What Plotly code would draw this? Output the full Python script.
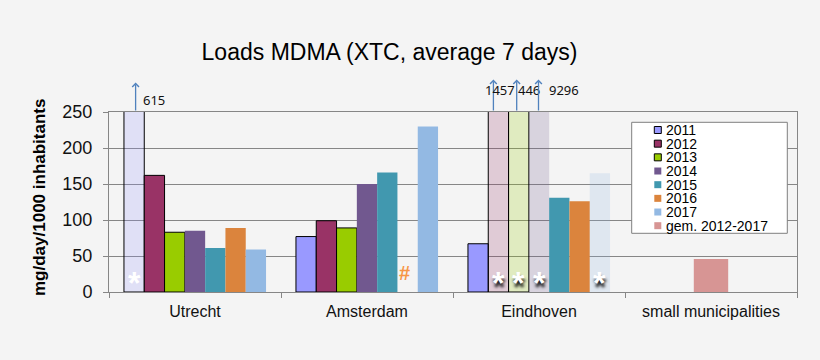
import plotly.graph_objects as go

# ---------------- data ----------------
title_text = "Loads MDMA (XTC, average 7 days)"
y_title = "mg/day/1000 inhabitants"
cities = ["Utrecht", "Amsterdam", "Eindhoven", "small municipalities"]
years = ["2011", "2012", "2013", "2014", "2015", "2016", "2017"]
v2011 = [615, 77, 67, None]
v2012 = [162, 99, 1457, None]
v2013 = [83, 89, 446, None]
v2014 = [85, 150, 9296, None]
v2015 = [61, 166, 131, None]
v2016 = [89, None, 126, None]
v2017 = [59, 230, 165, None]
gem_name = "gem. 2012-2017"
gem_values = [None, None, None, 46]
flagged = [("Utrecht", "2011"), ("Eindhoven", "2012"), ("Eindhoven", "2013"),
           ("Eindhoven", "2014"), ("Eindhoven", "2017")]
missing = [("Amsterdam", "2016")]
y_ticks = [0, 50, 100, 150, 200, 250]
y_max = 250

series = [v2011, v2012, v2013, v2014, v2015, v2016, v2017]

# ---------------- style ----------------
colors = {"2011": (153, 153, 255), "2012": (153, 51, 102), "2013": (153, 204, 0),
          "2014": (113, 88, 143), "2015": (65, 152, 175), "2016": (219, 132, 61),
          "2017": (147, 185, 227)}
bordered = {"2011", "2012", "2013"}
gem_color = "rgb(215,149,148)"
FONT = "Liberation Sans, Arial, sans-serif"
BG = "#f4f4f4"
GRID = "#868686"
ARROW = "#4f81bd"
label_shift = {("Utrecht", "2011"): 20, ("Eindhoven", "2012"): 1.5,
               ("Eindhoven", "2013"): 10.5, ("Eindhoven", "2014"): 25}
arrow_shift = {("Utrecht", "2011"): 1.5, ("Eindhoven", "2012"): -5,
               ("Eindhoven", "2013"): -2, ("Eindhoven", "2014"): -0.5}
W, H = 820, 360
L, R, T, B = 109, 23, 112, 68
PW, PH = W - L - R, H - T - B
label_py = {"Utrecht": 100, "Eindhoven": 89.5}
arrow_py = {"Utrecht": 82.5, "Eindhoven": 79.5}
bargap = 0.174
n = len(years)
slot = (1 - bargap) / n


def slot_x(ci, yi):
    return ci - (1 - bargap) / 2 + (yi + 0.5) * slot


def px2x(px):
    return (px - L) / PW


def px2y(py):
    return (H - B - py) / PH


fig = go.Figure()
for yi, (yr, vals) in enumerate(zip(years, series)):
    r, g, b = colors[yr]
    cols = []
    for c in cities:
        if (c, yr) in flagged:
            cols.append(f"rgba({r},{g},{b},0.21)")
        else:
            cols.append(f"rgb({r},{g},{b})")
    line = dict(color="#000000", width=1) if yr in bordered else dict(width=0)
    fig.add_trace(go.Bar(x=cities, y=vals, name=yr, marker=dict(color=cols, line=line),
                         showlegend=False))

fig.add_trace(go.Bar(x=cities, y=gem_values, name=gem_name, xaxis="x2", width=0.2,
                     marker=dict(color=gem_color, line=dict(width=0)), showlegend=False))

ann = []
shapes = []
# overflow labels + arrows
for yi, (yr, vals) in enumerate(zip(years, series)):
    for ci, c in enumerate(cities):
        v = vals[ci]
        xs = slot_x(ci, yi)
        if v is not None and v > y_max:
            ann.append(dict(x=xs, xref="x", y=px2y(arrow_py[c]), yref="paper", text="",
                            showarrow=True, ax=0, ay=T - arrow_py[c],
                            axref="pixel", ayref="pixel", arrowhead=4, arrowsize=1.0,
                            arrowwidth=1.3, arrowcolor=ARROW,
                            xshift=arrow_shift.get((c, yr), 0)))
            ann.append(dict(x=xs, xref="x", y=px2y(label_py[c]), yref="paper", text=str(v),
                            showarrow=False, xshift=label_shift.get((c, yr), 0),
                            xanchor="center", yanchor="middle",
                            font=dict(family="Noto Sans, Open Sans", size=13, color="#111")))
        if (c, yr) in flagged:
            f = dict(family=FONT, size=32, color="white", weight="bold")
            if c == "Eindhoven":
                f["shadow"] = "1px 4px 3px rgba(0,0,0,0.85)"
            ann.append(dict(x=xs, xref="x", y=13, yref="y", text="*", showarrow=False,
                            yanchor="middle", font=f))
        if (c, yr) in missing:
            ann.append(dict(x=xs, xref="x", y=26, yref="y", text="#", showarrow=False,
                            xshift=-3, yanchor="middle",
                            font=dict(family=FONT, size=20, color="#f79646", weight="bold")))

# y-axis title
ann.append(dict(x=px2x(39), xref="paper", y=px2y(198), yref="paper", text=y_title,
                textangle=-90, showarrow=False, xanchor="center", yanchor="middle",
                font=dict(family=FONT, size=17, color="#000", weight="bold")))

# custom legend
lx0, lx1, ly0, ly1 = 631.7, 787.3, 122.3, 233.3
shapes.append(dict(type="rect", xref="paper", yref="paper", x0=px2x(lx0), x1=px2x(lx1),
                   y0=px2y(ly1), y1=px2y(ly0), fillcolor="white",
                   line=dict(color="#7f7f7f", width=1), layer="above"))
names = years + [gem_name]
for k, nm in enumerate(names):
    cy = 130 + k * 13.67
    if nm in colors:
        r, g, b = colors[nm]
        fc = f"rgb({r},{g},{b})"
        lc = dict(color="#000", width=1) if nm in bordered else dict(width=0)
    else:
        fc = gem_color
        lc = dict(width=0)
    shapes.append(dict(type="rect", xref="paper", yref="paper", x0=px2x(654.3), x1=px2x(661.3),
                       y0=px2y(cy + 3.5), y1=px2y(cy - 3.5), fillcolor=fc, line=lc,
                       layer="above"))
    ann.append(dict(x=px2x(664), xref="paper", y=px2y(cy), yref="paper", text=nm,
                    showarrow=False, xanchor="left", yanchor="middle",
                    font=dict(family=FONT, size=14, color="#000")))

fig.update_layout(
    width=W, height=H, margin=dict(l=L, r=R, t=T, b=B),
    paper_bgcolor=BG, plot_bgcolor=BG,
    barmode="group", bargap=bargap, bargroupgap=0,
    title=dict(text=title_text, x=389.5 / W, xanchor="center", y=1 - 52 / H, yanchor="middle",
               font=dict(family=FONT, size=23, color="#000")),
    xaxis=dict(type="category", categoryorder="array", categoryarray=cities, range=[-0.5, 3.5],
               showline=True, linecolor=GRID, linewidth=1, mirror=True,
               ticks="outside", tickson="boundaries", ticklen=5, tickcolor=GRID,
               showgrid=False, tickfont=dict(family=FONT, size=16, color="#111"),
               ticklabelstandoff=5),
    xaxis2=dict(type="category", categoryorder="array", categoryarray=cities,
                range=[-0.5, 3.5], overlaying="x", visible=False),
    yaxis=dict(range=[0, y_max], tickvals=y_ticks, showgrid=True, gridcolor=GRID, gridwidth=1,
               showline=True, linecolor=GRID, linewidth=1, mirror=True,
               ticks="outside", ticklen=5, tickcolor=GRID, zeroline=False,
               tickfont=dict(family=FONT, size=18, color="#111"), ticklabelstandoff=7),
    annotations=ann, shapes=shapes, showlegend=False,
)

fig.write_html("out.html", config={"displayModeBar": False},
               post_script="document.body.style.margin='0px';")
